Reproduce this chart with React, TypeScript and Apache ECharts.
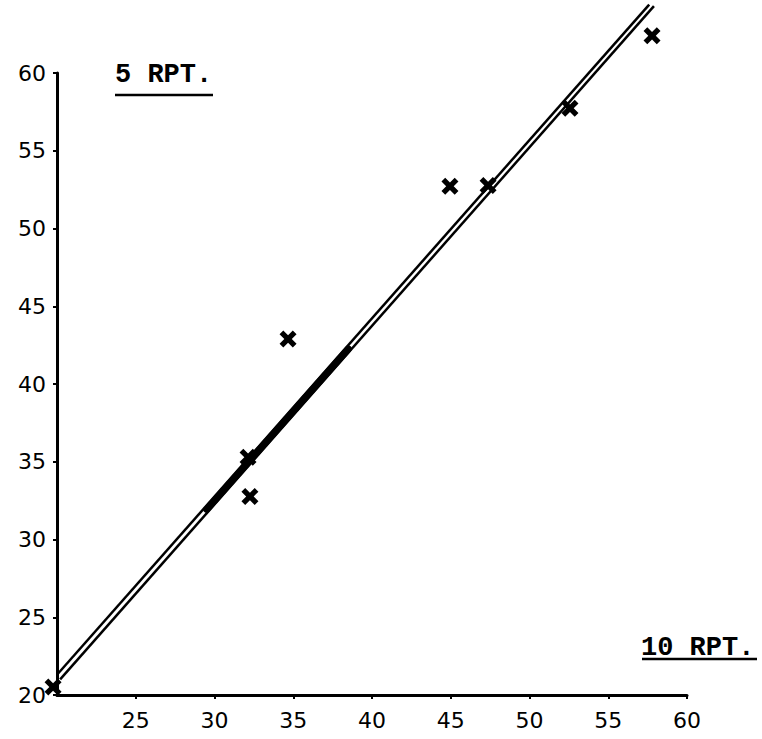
import React, { useEffect, useRef } from "react";
import * as echarts from "echarts";

// Data (10 RPT. on x, 5 RPT. on y)
const pointsX = [19.75, 32.13, 32.25, 34.67, 44.95, 47.37, 52.57, 57.78];
const pointsY = [20.52, 35.29, 32.77, 42.9, 52.71, 52.77, 57.74, 62.39];

// the drawn (double) fitted line
const lineAX = [20.0, 57.6];
const lineAY = [21.3, 64.4];
const lineBX = [20.2, 57.9];
const lineBY = [21.0, 64.3];
// portion where the double line was drawn as one heavy stroke
const heavyX = [29.5, 38.5];
const heavyY = [31.93, 42.26];

const xTicks = [20, 25, 30, 35, 40, 45, 50, 55, 60];
const yTicks = [20, 25, 30, 35, 40, 45, 50, 55, 60];

const xLabel = "10 RPT.";
const yLabel = "5 RPT.";

const zip = (xs: number[], ys: number[]) => xs.map((x, i) => [x, ys[i]]);

const crossPath =
  "path://M0,2.2 L2.2,0 L5,2.8 L7.8,0 L10,2.2 L7.2,5 L10,7.8 L7.8,10 L5,7.2 L2.2,10 L0,7.8 L2.8,5 Z";

export default function App() {
  const ref = useRef<HTMLDivElement>(null);
  useEffect(() => {
    if (!ref.current) return;
    const chart = echarts.init(ref.current, null, { renderer: "svg" });
    const ink = "#000";
    const tickFont = {
      fontFamily: "DejaVu Sans",
      fontSize: 22,
      color: ink,
    };
    chart.setOption({
      animation: false,
      backgroundColor: "#fff",
      grid: { left: 57, top: 73, width: 630, height: 622 },
      xAxis: {
        type: "value",
        min: xTicks[0],
        max: xTicks[xTicks.length - 1],
        interval: 5,
        axisLine: { lineStyle: { color: ink, width: 3 } },
        axisTick: { show: true, length: 4, lineStyle: { color: ink, width: 2 } },
        splitLine: { show: false },
        axisLabel: { ...tickFont, margin: 14, showMinLabel: false },
      },
      yAxis: {
        type: "value",
        min: yTicks[0],
        max: yTicks[yTicks.length - 1],
        interval: 5,
        axisLine: { lineStyle: { color: ink, width: 3 } },
        axisTick: { show: true, length: 4, lineStyle: { color: ink, width: 2 } },
        splitLine: { show: false },
        axisLabel: { ...tickFont, margin: 11 },
      },
      series: [
        {
          type: "line",
          data: zip(lineAX, lineAY),
          symbol: "none",
          clip: false,
          lineStyle: { color: ink, width: 2.5 },
        },
        {
          type: "line",
          data: zip(lineBX, lineBY),
          symbol: "none",
          clip: false,
          lineStyle: { color: ink, width: 2.5 },
        },
        {
          type: "line",
          data: zip(heavyX, heavyY),
          symbol: "none",
          clip: false,
          lineStyle: { color: ink, width: 7, cap: "round" },
        },
        {
          type: "scatter",
          data: zip(pointsX, pointsY),
          symbol: crossPath,
          symbolSize: 17,
          clip: false,
          itemStyle: { color: ink, opacity: 1 },
          z: 5,
        },
      ],
      graphic: [
        {
          type: "text",
          left: 115,
          top: 61,
          style: {
            text: yLabel,
            font: "bold 27px 'Liberation Mono'",
            fill: ink,
          },
        },
        {
          type: "line",
          shape: { x1: 115, y1: 95, x2: 213, y2: 95 },
          style: { stroke: ink, lineWidth: 2.5 },
        },
        {
          type: "text",
          left: 641,
          top: 634,
          style: {
            text: xLabel,
            font: "bold 27px 'Liberation Mono'",
            fill: ink,
          },
        },
        {
          type: "line",
          shape: { x1: 642, y1: 659, x2: 757, y2: 659 },
          style: { stroke: ink, lineWidth: 2.5 },
        },
      ],
    });
    return () => chart.dispose();
  }, []);
  return (
    <div
      ref={ref}
      style={{ position: "fixed", left: 0, top: 0, width: 762, height: 739 }}
    />
  );
}
